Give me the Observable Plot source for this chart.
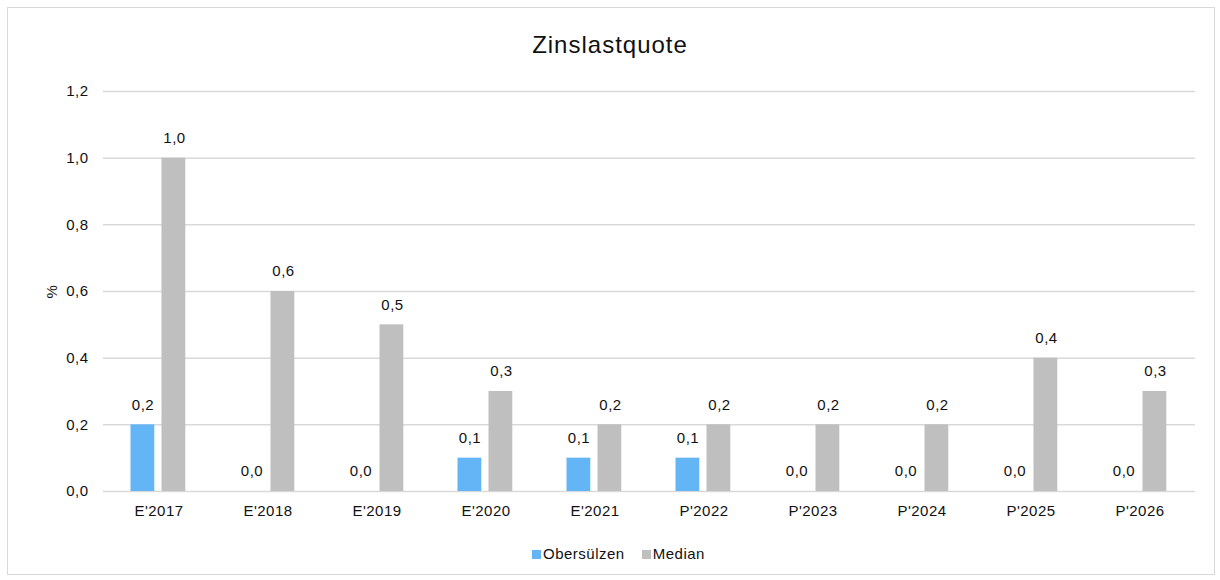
<!DOCTYPE html>
<html>
<head>
<meta charset="utf-8">
<script src="https://cdn.jsdelivr.net/npm/d3@7"></script>
<script src="https://cdn.jsdelivr.net/npm/@observablehq/plot@0.6"></script>
<style>
  body { margin: 0; background: #fff; font-family: "Liberation Sans", Arial, sans-serif; }
  #wrap { position: relative; width: 1220px; height: 580px; overflow: hidden; }
  #frame { position: absolute; left: 7px; top: 7px; width: 1206px; height: 566px; border: 1px solid #d9d9d9; }
  #title { position: absolute; left: 0; width: 1220px; top: 31px; text-align: center; font-size: 24px; letter-spacing: 1px; color: #111; line-height: normal; }
  #chart { position: absolute; left: 0; top: 0; }
  #legend { position: absolute; left: 532px; top: 545px; font-size: 15px; letter-spacing: 0.5px; color: #111; white-space: nowrap; line-height: normal; }
  #legend span.item { display: inline-block; margin-right: 17px; }
  #legend span.sw { display: inline-block; width: 9px; height: 9px; margin-right: 2px; vertical-align: baseline; }
</style>
</head>
<body>
<div id="wrap">
  <div id="frame"></div>
  <div id="title">Zinslastquote</div>
  <div id="chart"></div>
  <div id="legend"></div>
</div>
<script>
const categories = ["E'2017", "E'2018", "E'2019", "E'2020", "E'2021", "P'2022", "P'2023", "P'2024", "P'2025", "P'2026"];
const seriesNames = ["Obersülzen", "Median"];
const obersuelzen = [0.2, 0.0, 0.0, 0.1, 0.1, 0.1, 0.0, 0.0, 0.0, 0.0];
const median = [1.0, 0.6, 0.5, 0.3, 0.2, 0.2, 0.2, 0.2, 0.4, 0.3];
const yTicks = [0, 0.2, 0.4, 0.6, 0.8, 1.0, 1.2];
const colors = ["#63b5f6", "#bfbfbf"];

const fmt = v => v.toFixed(1).replace(".", ",");
const dataA = categories.map((c, i) => ({cat: c, value: obersuelzen[i]}));
const dataB = categories.map((c, i) => ({cat: c, value: median[i]}));

const chart = Plot.plot({
  width: 1220,
  height: 540,
  marginLeft: 103,
  marginRight: 25,
  marginTop: 91,
  marginBottom: 49,
  style: {fontFamily: "Liberation Sans, Arial, sans-serif", fontSize: "15px", letterSpacing: "0.5px", color: "#111", background: "transparent"},
  x: {domain: categories, padding: 0, label: null},
  y: {domain: [0, 1.2], ticks: yTicks, label: null},
  marks: [
    Plot.ruleY(yTicks, {stroke: "#d9d9d9", strokeWidth: 1.5}),
    Plot.axisY({ticks: yTicks, tickSize: 0, tickPadding: 15, tickFormat: fmt, fontSize: 15,
      label: "%", labelAnchor: "center", labelArrow: "none", labelOffset: 57}),
    Plot.axisX({tickSize: 0, tickPadding: 14, fontSize: 15, label: null}),
    Plot.barY(dataA, {x: "cat", y: "value", fill: colors[0], insetLeft: 26.5, insetRight: 58.7}),
    Plot.barY(dataB, {x: "cat", y: "value", fill: colors[1], insetLeft: 57.5, insetRight: 27.7}),
    Plot.text(dataA, {x: "cat", y: "value", text: d => fmt(d.value), dx: -16, dy: -20, fontSize: 15, fill: "#111"}),
    Plot.text(dataB, {x: "cat", y: "value", text: d => fmt(d.value), dx: 15.5, dy: -20, fontSize: 15, fill: "#111"})
  ]
});
document.getElementById("chart").appendChild(chart);

const legend = document.getElementById("legend");
seriesNames.forEach((n, i) => {
  const item = document.createElement("span");
  item.className = "item";
  const sw = document.createElement("span");
  sw.className = "sw";
  sw.style.background = colors[i];
  item.appendChild(sw);
  item.appendChild(document.createTextNode(n));
  legend.appendChild(item);
});
</script>
</body>
</html>
